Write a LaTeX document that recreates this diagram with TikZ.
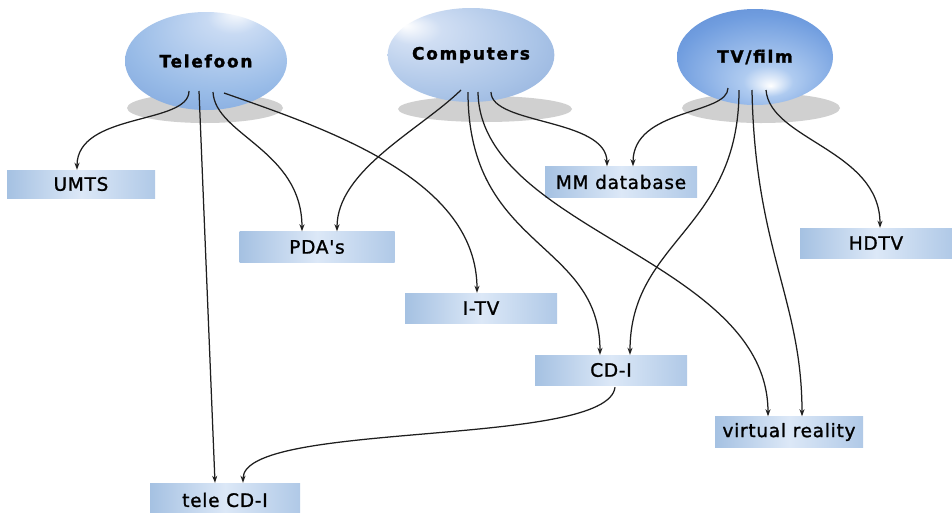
\documentclass[tikz,border=0pt]{standalone}
\usepackage{fontspec}
\setmainfont{DejaVu Sans}
\newfontfamily\ellfont[LetterSpace=10,FakeBold=1.5]{DejaVu Sans Bold}
\newfontfamily\boxfont[LetterSpace=4,FakeBold=1.2]{DejaVu Sans}
\usetikzlibrary{shapes.geometric,arrows.meta}

\definecolor{linec}{RGB}{30,30,30}
\definecolor{boxL}{RGB}{165,193,226}
\definecolor{boxM}{RGB}{220,232,247}
\definecolor{boxR}{RGB}{176,201,231}
\definecolor{telA}{RGB}{200,218,243}
\definecolor{telB}{RGB}{152,187,231}
\definecolor{telC}{RGB}{108,148,212}
\definecolor{comA}{RGB}{208,222,243}
\definecolor{comB}{RGB}{170,196,231}
\definecolor{comC}{RGB}{126,160,212}
\definecolor{tvA}{RGB}{175,203,240}
\definecolor{tvB}{RGB}{112,157,223}
\definecolor{tvC}{RGB}{76,120,198}
\definecolor{shA}{RGB}{208,208,208}
\definecolor{shB}{RGB}{232,232,232}

\pgfdeclareradialshading{telshade}{\pgfpoint{10bp}{26bp}}{color(0bp)=(white); color(8bp)=(telA); color(28bp)=(telB); color(50bp)=(telC)}
\pgfdeclareradialshading{comshade}{\pgfpoint{-20bp}{16bp}}{color(0bp)=(white); color(8bp)=(comA); color(28bp)=(comB); color(50bp)=(comC)}
\pgfdeclareradialshading{tvshade}{\pgfpoint{5bp}{-15bp}}{color(0bp)=(white); color(8bp)=(tvA); color(28bp)=(tvB); color(50bp)=(tvC)}
\pgfdeclareradialshading{shshade}{\pgfpoint{0bp}{0bp}}{color(0bp)=(shA); color(34bp)=(shA); color(50bp)=(shB)}

\tikzset{
  ellnode/.style={ellipse, inner sep=0pt, font=\ellfont\fontsize{17}{20}\selectfont},
  shadownode/.style={ellipse, inner sep=0pt, shading=shshade},
  boxnode/.style={rectangle, inner sep=0pt, left color=boxL, right color=boxR, middle color=boxM,
    minimum width=150pt, minimum height=30pt, font=\boxfont\fontsize{18.5}{22}\selectfont},
  conn/.style={draw=linec, line width=1.25pt, -{Stealth[length=7pt,width=5pt]}}
}

\begin{document}
\begin{tikzpicture}[x=1pt,y=-1pt]
\useasboundingbox (0,0) rectangle (952,512);
\fill[white] (0,0) rectangle (952,512);

% shadows
\node[shadownode, minimum width=156pt, minimum height=30pt] (telsh) at (205,108) {};
\node[shadownode, minimum width=174pt, minimum height=26pt] (comsh) at (485,109) {};
\node[shadownode, minimum width=158pt, minimum height=30pt] (tvsh) at (761,108) {};

% ellipses
\node[ellnode, shading=telshade, minimum width=162pt, minimum height=98pt] (tel) at (206,61) {Telefoon};
\node[ellnode, shading=comshade, minimum width=152pt, minimum height=94pt] (comp) at (471,55) {Computers};
\node[ellnode, shading=tvshade, minimum width=156pt, minimum height=96pt] (tv) at (755,57) {TV/film};

% boxes
\node[boxnode, minimum width=148pt, minimum height=28pt] (umts) at (81,184) {UMTS};
\node[boxnode, minimum width=155pt, minimum height=31pt] (pda) at (317,247) {PDA's};
\node[boxnode, minimum width=152pt] (itv) at (481,308) {I-TV};
\node[boxnode, minimum width=152pt, minimum height=31pt] (mmdb) at (621,182) {MM database};
\node[boxnode, minimum width=152pt] (hdtv) at (876,243) {HDTV};
\node[boxnode, minimum width=152pt] (cdi) at (611,370) {CD-I};
\node[boxnode, minimum width=148pt, minimum height=31pt] (vr) at (789,432) {virtual reality};
\node[boxnode, minimum width=150pt, minimum height=34pt] (tcdi) at (225,500) {tele CD-I};

% Telefoon connectors
\draw[conn] ([shift={(-17,30)}]tel.center) .. controls (189,125) and (77,112) .. ([xshift=-4pt]umts.north);
\draw[conn] ([shift={(-7,30)}]tel.center) -- ([xshift=-10pt]tcdi.north);
\draw[conn] ([shift={(7,31)}]tel.center) .. controls (215,135) and (302,150) .. ([xshift=-15pt]pda.north);
\draw[conn] ([shift={(18,32)}]tel.center) .. controls (330,130) and (477,180) .. ([xshift=-4pt]itv.north);

% Computers connectors
\draw[conn] ([shift={(-10,35)}]comp.center) .. controls (420,130) and (337,170) .. ([xshift=20pt]pda.north);
\draw[conn] ([shift={(-3,37)}]comp.center) .. controls (468,250) and (600,240) .. ([xshift=-11pt]cdi.north);
\draw[conn] ([shift={(7,37)}]comp.center) .. controls (480,230) and (768,260) .. ([xshift=-21pt]vr.north);
\draw[conn] ([shift={(20,37)}]comp.center) .. controls (491,125) and (607,118) .. ([xshift=-14pt]mmdb.north);

% TV/film connectors
\draw[conn] ([shift={(-27,31)}]tv.center) .. controls (728,115) and (633,108) .. ([xshift=12pt]mmdb.north);
\draw[conn] ([shift={(-16,33)}]tv.center) .. controls (739,230) and (630,240) .. ([xshift=19pt]cdi.north);
\draw[conn] ([shift={(-3,33)}]tv.center) .. controls (755,250) and (802,300) .. ([xshift=13pt]vr.north);
\draw[conn] ([shift={(11,33)}]tv.center) .. controls (770,140) and (880,150) .. ([xshift=4pt]hdtv.north);

% CD-I to tele CD-I
\draw[conn] ([shift={(4,2)}]cdi.south) .. controls (608,448) and (243,420) .. ([xshift=18pt]tcdi.north);
\end{tikzpicture}
\end{document}
